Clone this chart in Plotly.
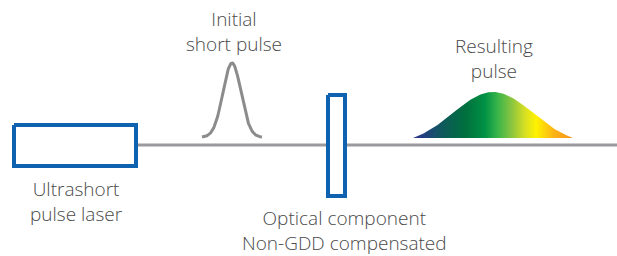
import numpy as np
import plotly.graph_objects as go

# Diagram geometry (in pixel-like units of the canvas)
beam_x = [137, 617]
beam_y = [145, 145]

laser_box_x = [14, 136, 136, 14, 14]
laser_box_y = [125, 125, 166, 166, 125]

optic_box_x = [328, 345, 345, 328, 328]
optic_box_y = [95, 95, 196, 196, 95]

# pulses: center, width (sigma), peak height, baseline, extent
initial_pulse = dict(center=232, sigma=9, top=63, base=137, left=202, right=262)
result_pulse = dict(center=493, sigma=40, top=92, base=138, left=413, right=573)

labels = ["Ultrashort<br>pulse laser", "Initial<br>short pulse",
          "Optical component<br>Non-GDD compensated", "Resulting<br>pulse"]
label_x = [76, 234, 344, 494]
label_y = [201, 31, 230, 58]

grad_colors = [[0.0, "#2e3192"], [0.19, "#0d5a5a"], [0.33, "#00703c"],
               [0.45, "#009245"], [0.53, "#39b54a"], [0.62, "#8dc63f"],
               [0.70, "#d7df23"], [0.77, "#fff200"], [0.88, "#fbb316"],
               [1.0, "#f7941d"]]


def pulse(p, n=160):
    x = np.linspace(p["left"], p["right"], n)
    g = np.exp(-0.5 * ((x - p["center"]) / p["sigma"]) ** 2)
    edge = np.exp(-0.5 * ((p["right"] - p["center"]) / p["sigma"]) ** 2)
    g = np.clip((g - edge) / (1 - edge), 0, 1)
    y = p["base"] - (p["base"] - p["top"]) * g
    return x, y


fig = go.Figure()
fig.add_trace(go.Scatter(x=beam_x, y=beam_y, mode="lines",
                         line=dict(color="#9a9a9e", width=3), hoverinfo="skip"))
for bx, by in [(laser_box_x, laser_box_y), (optic_box_x, optic_box_y)]:
    fig.add_trace(go.Scatter(x=bx, y=by, mode="lines", fill="toself", fillcolor="white",
                             line=dict(color="#0f62b0", width=4), hoverinfo="skip"))

ix, iy = pulse(initial_pulse)
fig.add_trace(go.Scatter(x=ix, y=iy, mode="lines",
                         line=dict(color="#8c8c8c", width=3), hoverinfo="skip"))

rx, ry = pulse(result_pulse)
fig.add_trace(go.Scatter(x=list(rx) + [rx[0]], y=list(ry) + [ry[0]], mode="lines", fill="toself",
                         fillgradient=dict(type="horizontal", colorscale=grad_colors,
                                           start=result_pulse["left"], stop=result_pulse["right"]),
                         line=dict(width=0, color="rgba(0,0,0,0)"), hoverinfo="skip"))

for t, x, y in zip(labels, label_x, label_y):
    fig.add_annotation(x=x, y=y, text=t, showarrow=False, xanchor="center", yanchor="middle",
                       font=dict(family="Open Sans, Lato, sans-serif", size=19, color="#4a4a4a", weight=300))

fig.update_layout(width=617, height=256, margin=dict(l=0, r=0, t=0, b=0),
                  paper_bgcolor="white", plot_bgcolor="white", showlegend=False,
                  xaxis=dict(range=[0, 617], visible=False, fixedrange=True),
                  yaxis=dict(range=[256, 0], visible=False, fixedrange=True))
fig.write_html("out.html", config={"displayModeBar": False},
               post_script="document.body.style.margin='0';document.body.style.overflow='hidden';")
